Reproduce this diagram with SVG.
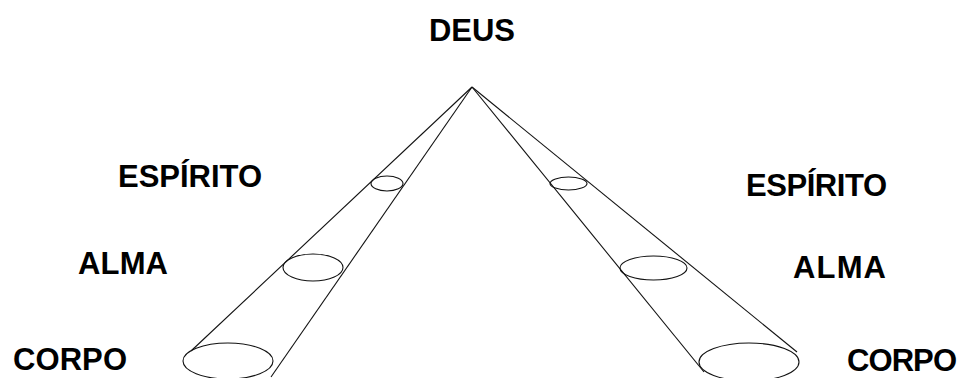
<svg xmlns="http://www.w3.org/2000/svg" width="966" height="378" viewBox="0 0 966 378">
<style>
.lbl{font-family:"Liberation Sans",Arial,sans-serif;font-weight:bold;font-size:31px;fill:#000}
.ln{stroke:#111;stroke-width:1.1;fill:none}
</style>
<rect width="966" height="378" fill="#fff"/>
<g id="connectors">
<line class="ln" x1="472" y1="87" x2="191" y2="351"/>
<line class="ln" x1="472" y1="87" x2="271" y2="377"/>
<line class="ln" x1="472" y1="87" x2="704" y2="372"/>
<line class="ln" x1="472" y1="87" x2="797" y2="352"/>
</g>
<g id="deus"><text class="lbl" x="429" y="41" textLength="86">DEUS</text></g>
<g id="left-cone">
<ellipse class="ln" cx="387" cy="183.5" rx="16" ry="7.5"/>
<ellipse class="ln" cx="313" cy="267.5" rx="30" ry="13.5"/>
<ellipse class="ln" cx="228" cy="361" rx="45" ry="18"/>
</g>
<g id="right-cone">
<ellipse class="ln" cx="568.5" cy="183.5" rx="18.5" ry="6.5"/>
<ellipse class="ln" cx="653.5" cy="268" rx="33.5" ry="12"/>
<ellipse class="ln" cx="749" cy="362" rx="50" ry="19"/>
</g>
<g id="espirito-left"><text class="lbl" x="118" y="187" textLength="144">ESPÍRITO</text></g>
<g id="alma-left"><text class="lbl" x="78" y="274" textLength="90">ALMA</text></g>
<g id="corpo-left"><text class="lbl" x="13" y="370" textLength="114">CORPO</text></g>
<g id="espirito-right"><text class="lbl" x="746" y="196" textLength="141">ESPÍRITO</text></g>
<g id="alma-right"><text class="lbl" x="793" y="278" textLength="93">ALMA</text></g>
<g id="corpo-right"><text class="lbl" x="847" y="371" textLength="110">CORPO</text></g>
</svg>
